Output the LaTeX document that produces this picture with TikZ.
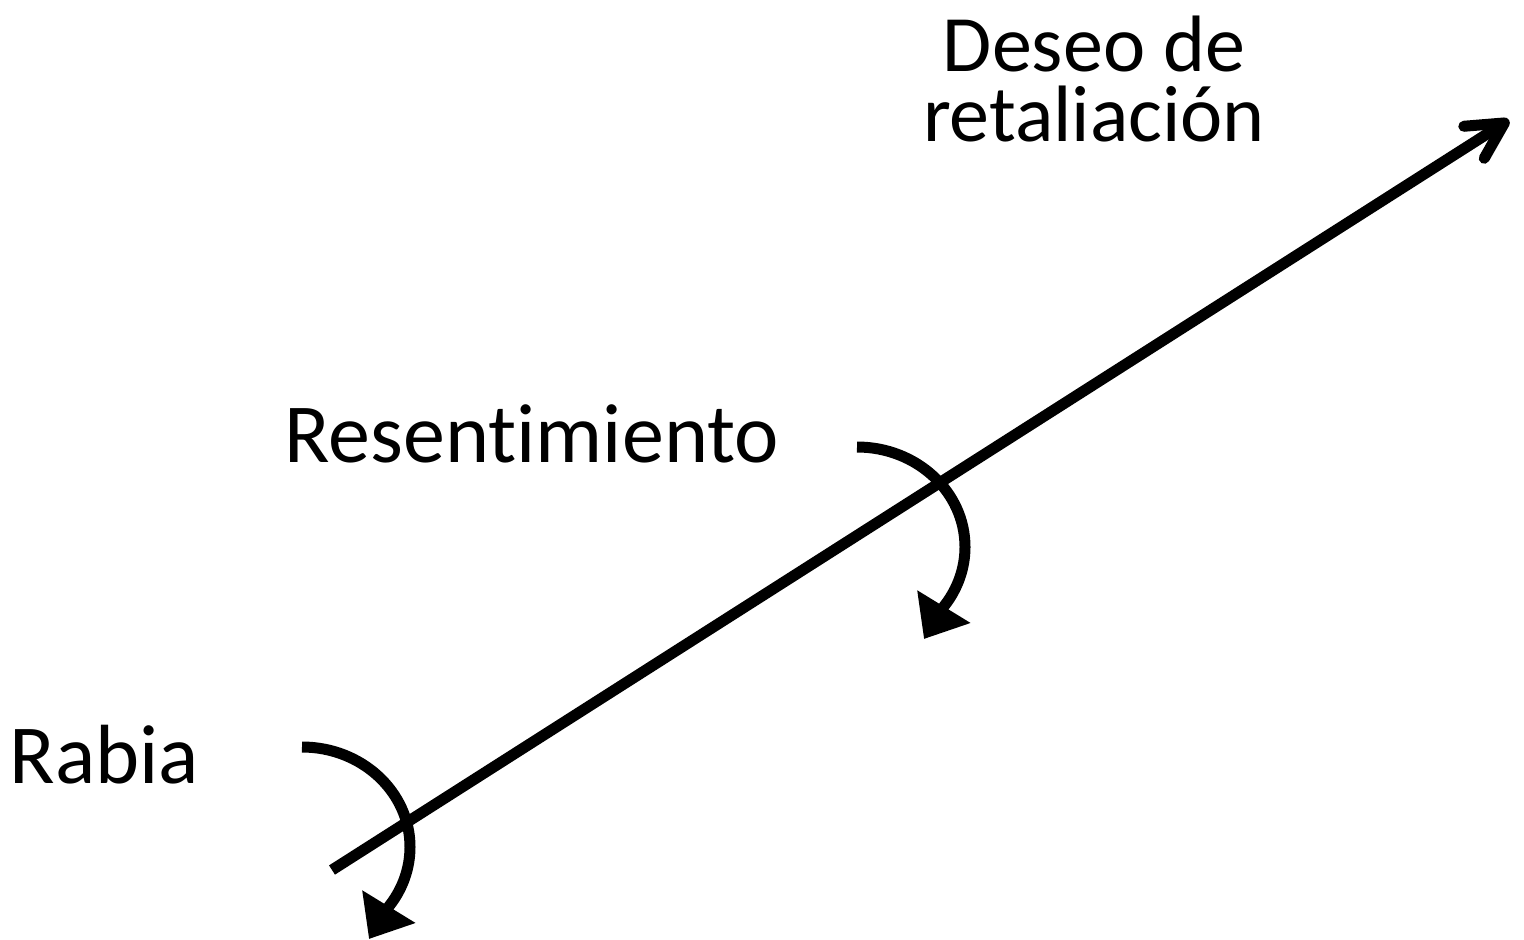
\documentclass[tikz,border=0pt]{standalone}
\usepackage{fontspec}
\setmainfont{Carlito}[Ligatures=CommonOff]
\usetikzlibrary{arrows.meta}

\begin{document}
\begin{tikzpicture}[x=0.5pt, y=0.5pt]
\tikzstyle{emo}=[inner sep=0pt, text=black, font=\fontsize{42}{35}\selectfont]
\tikzstyle{mainline}=[line width=5.5pt, -{Straight Barb[length=18pt, width=19pt, round]}]
\tikzstyle{turn}=[line width=5.5pt, -{Triangle[length=19pt, width=30pt]}]
\useasboundingbox (0,0) rectangle (1524,939);

% texts
\node[emo, anchor=base west]            (rabia)  at (9,156)    {Rabia};
\node[emo, anchor=base west]            (resent) at (284,477)  {Resentimiento};
\node[emo, anchor=base, align=center, font=\fontsize{40}{35}\selectfont] (deseo) at (1094,797) {Deseo de\\retaliación};

% end points
\coordinate (tail)         at (332,69);
\coordinate (head)         at (1509,819);
\coordinate (resent start) at (857,492);
\coordinate (resent tip)   at (924,300);
\coordinate (rabia start)  at (302,192);
\coordinate (rabia tip)    at (369,0);

\path (tail) edge[mainline] (head);

\draw[turn] (resent start) arc[start angle=90, end angle=-36, x radius=54pt, y radius=50pt] -- (resent tip);
\draw[turn] (rabia start)  arc[start angle=90, end angle=-36, x radius=54pt, y radius=50pt] -- (rabia tip);

\end{tikzpicture}
\end{document}
